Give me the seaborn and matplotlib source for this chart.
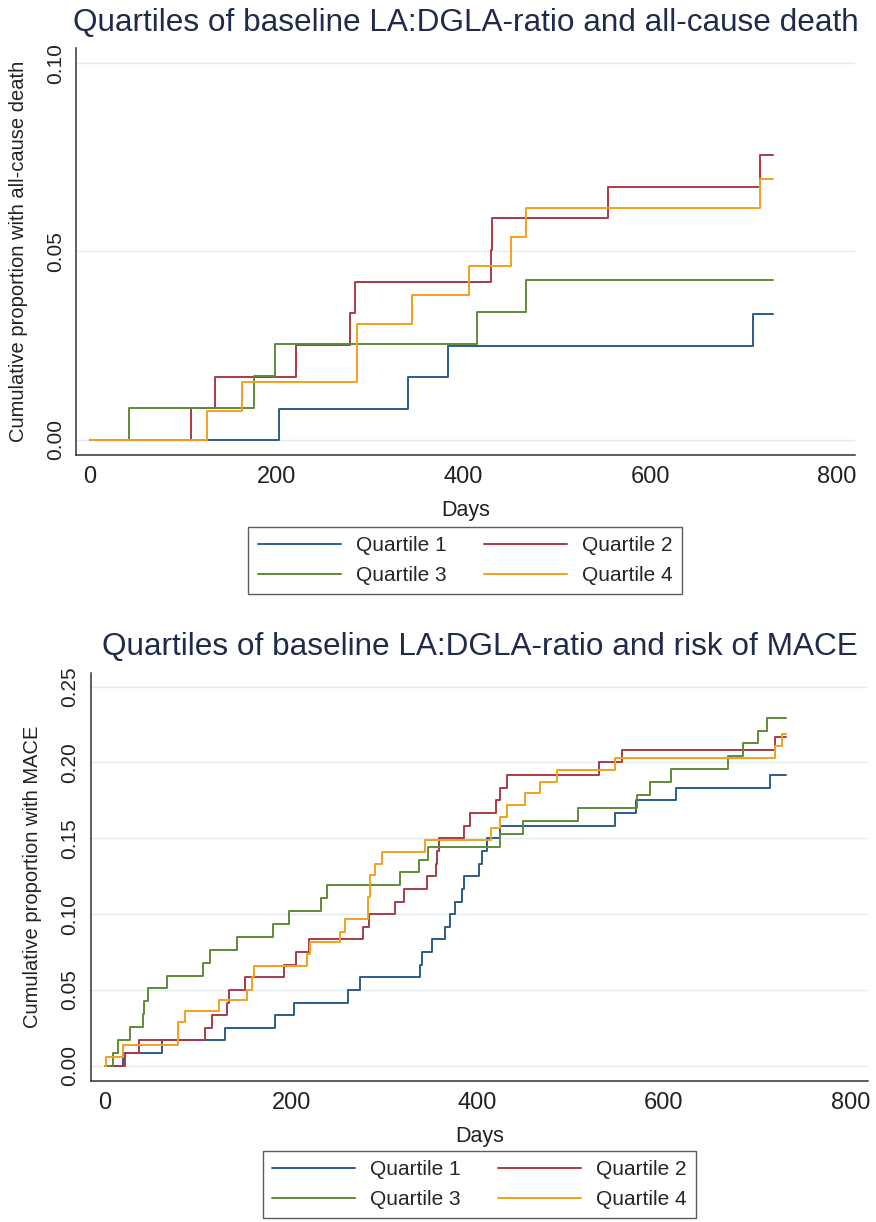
import numpy as np
import pandas as pd
import seaborn as sns
import matplotlib.pyplot as plt
from matplotlib.lines import Line2D

sns.set_theme(style="white")
plt.rcParams['font.family'] = ['Liberation Sans', 'DejaVu Sans']

quartiles = ["Quartile 1", "Quartile 2", "Quartile 3", "Quartile 4"]
colors = ["#2C5B8F", "#A83A4A", "#5E8A37", "#F3A01C"]
end_day = 731

# all-cause death: event days and cumulative proportion after each step
death_q1_days = [202, 340, 383, 710]
death_q1_vals = [0.0083, 0.0167, 0.025, 0.0333]
death_q2_days = [108, 134, 221, 278, 284, 429, 431, 555, 718]
death_q2_vals = [0.0084, 0.0168, 0.0252, 0.0336, 0.042, 0.0504, 0.0588, 0.0672, 0.0756]
death_q3_days = [42, 176, 198, 414, 467]
death_q3_vals = [0.0085, 0.0169, 0.0254, 0.0339, 0.0424]
death_q4_days = [125, 163, 286, 345, 406, 451, 467, 718]
death_q4_vals = [0.0077, 0.0154, 0.0308, 0.0385, 0.0462, 0.0538, 0.0615, 0.0692]

# MACE
mace_q1_days = [20, 62, 129, 183, 203, 261, 274, 338, 340, 351, 365, 370, 376, 383,
                385, 402, 405, 410, 424, 548, 570, 613, 714]
mace_q1_vals = [0.0083, 0.0167, 0.025, 0.0333, 0.0417, 0.05, 0.0583, 0.0667, 0.075,
                0.0833, 0.0917, 0.1, 0.1083, 0.1167, 0.125, 0.1333, 0.1417, 0.15,
                0.1583, 0.1667, 0.175, 0.1833, 0.1917]
mace_q2_days = [22, 37, 108, 115, 131, 133, 151, 192, 205, 219, 277, 284, 312, 321,
                346, 355, 357, 359, 385, 392, 420, 424, 432, 530, 555, 719]
mace_q2_vals = [0.0083, 0.0167, 0.025, 0.0333, 0.0417, 0.05, 0.0583, 0.0667, 0.075,
                0.0833, 0.0917, 0.1, 0.1083, 0.1167, 0.125, 0.1333, 0.1417, 0.15,
                0.1583, 0.1667, 0.175, 0.1833, 0.1917, 0.2, 0.2083, 0.2167]
mace_q3_days = [9, 14, 27, 41, 42.5, 46, 67, 106, 113, 142, 181, 198, 232, 238, 317,
                337, 347, 424, 449, 508, 571, 585, 608, 669, 685, 701, 710]
mace_q3_vals = [0.0085, 0.017, 0.0255, 0.034, 0.0425, 0.051, 0.0595, 0.068, 0.0765,
                0.085, 0.0935, 0.102, 0.1105, 0.119, 0.1275, 0.136, 0.1445, 0.153,
                0.1615, 0.17, 0.1785, 0.187, 0.1955, 0.204, 0.2125, 0.221, 0.2295]
mace_q4_days = [1.5, 19.5, 78.5, 86, 123, 152.5, 158, 160.5, 217, 220.5, 253, 258,
                283, 285, 290, 297, 344, 414, 424, 432, 451, 467, 485, 548, 719, 727]
mace_q4_vals = [0.006, 0.0137, 0.0286, 0.0363, 0.0433, 0.0503, 0.0587, 0.066, 0.074,
                0.0818, 0.0884, 0.097, 0.111, 0.126, 0.133, 0.141, 0.149, 0.157,
                0.164, 0.172, 0.18, 0.187, 0.195, 0.203, 0.211, 0.219]


def km_table(series):
    rows = []
    for name, (days, vals) in zip(quartiles, series):
        d = [0] + list(days) + [end_day]
        v = [0] + list(vals) + [vals[-1]]
        rows.append(pd.DataFrame({"Days": d, "prop": v, "group": name}))
    return pd.concat(rows, ignore_index=True)


death = km_table([(death_q1_days, death_q1_vals), (death_q2_days, death_q2_vals),
                  (death_q3_days, death_q3_vals), (death_q4_days, death_q4_vals)])
mace = km_table([(mace_q1_days, mace_q1_vals), (mace_q2_days, mace_q2_vals),
                 (mace_q3_days, mace_q3_vals), (mace_q4_days, mace_q4_vals)])

fig = plt.figure(figsize=(8.76, 12.22), dpi=100)
ax1 = fig.add_axes([0.0868, 0.6277, 0.889, 0.333])
ax2 = fig.add_axes([0.1035, 0.1154, 0.8875, 0.3339])

title_color = "#1F2B4A"
axis_color = "#333333"


def style_axis(ax, data, yticks, ylim, ylabel, title, title_y):
    sns.lineplot(data=data, x="Days", y="prop", hue="group", palette=colors,
                 estimator=None, sort=False, drawstyle="steps-post", lw=1.4,
                 legend=False, ax=ax)
    ax.set_xlim(-15, 819)
    ax.set_ylim(*ylim)
    ax.set_xticks([0, 200, 400, 600, 800])
    ax.set_yticks(yticks)
    ax.set_yticklabels([f"{t:.2f}" for t in yticks], rotation=90, va="center")
    for t in yticks:
        ax.axhline(t, color="#E3ECEF", lw=1.0, zorder=0)
    for s in ["top", "right"]:
        ax.spines[s].set_visible(False)
    for s in ["left", "bottom"]:
        ax.spines[s].set_color(axis_color)
        ax.spines[s].set_linewidth(1.1)
    ax.tick_params(axis="both", direction="out", length=5, width=1.0,
                   color=axis_color, labelcolor="#222222")
    ax.tick_params(axis="x", labelsize=17, pad=3)
    ax.tick_params(axis="y", labelsize=15, pad=3)
    ax.set_xlabel("Days", fontsize=15.5, color="#222222")
    ax.set_ylabel(ylabel, fontsize=14.5, color="#222222")
    ax.xaxis.set_label_coords(0.5, -0.11)
    ax.yaxis.set_label_coords(-0.062, 0.5)
    pos = ax.get_position()
    fig.text((pos.x0 + pos.x1) / 2, title_y, title, ha="center", va="center",
             fontsize=22.7, color=title_color)


style_axis(ax1, death, [0.0, 0.05, 0.10], (-0.004, 0.104),
           "Cumulative proportion with all-cause death",
           "Quartiles of baseline LA:DGLA-ratio and all-cause death", 0.981)
style_axis(ax2, mace, [0.0, 0.05, 0.10, 0.15, 0.20, 0.25], (-0.010, 0.259),
           "Cumulative proportion with MACE",
           "Quartiles of baseline LA:DGLA-ratio and risk of MACE", 0.4705)

# legend fills column-wise, so order gives rows Q1|Q2 and Q3|Q4
order = [0, 2, 1, 3]
handles = [Line2D([0], [0], color=colors[i], lw=1.4) for i in order]
labels = [quartiles[i] for i in order]
for cx, top in [(0.531, 0.5687), (0.547, 0.058)]:
    leg = fig.legend(handles, labels, ncol=2, loc="upper center",
                     bbox_to_anchor=(cx, top), fontsize=15, frameon=True,
                     fancybox=False, edgecolor="#333333", handlelength=4.0,
                     columnspacing=1.8, labelspacing=0.5, borderpad=0.45,
                     handletextpad=0.7, borderaxespad=0)
    leg.get_frame().set_linewidth(1.0)

fig.savefig("out.png", dpi=100, facecolor="white")
